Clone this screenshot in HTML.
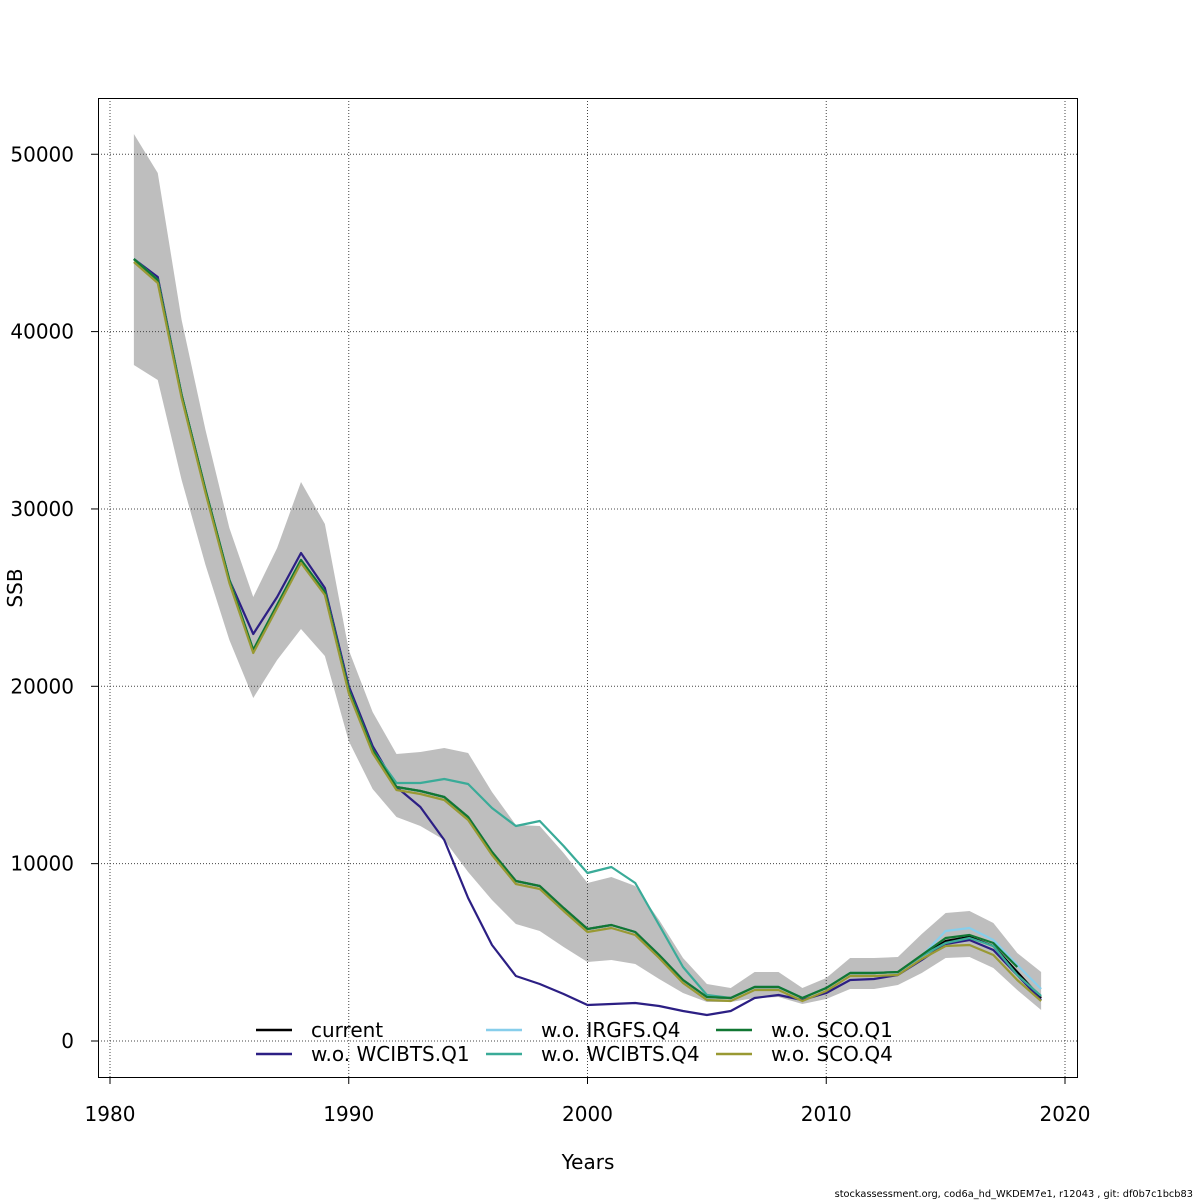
<!DOCTYPE html>
<html><head><meta charset="utf-8"><style>body{margin:0;background:#fff}svg{display:block}text{font-family:"DejaVu Sans","Liberation Sans",sans-serif}</style></head>
<body>
<svg id="s" width="1200" height="1200" xmlns="http://www.w3.org/2000/svg">
<rect width="1200" height="1200" fill="#fff"/>
<g id="band"></g>
<g id="grid" stroke="#444" stroke-width="1" stroke-dasharray="1,2"></g>
<g id="lines" fill="none" stroke-width="2.2" stroke-linejoin="round"></g>
<rect x="98.5" y="98.5" width="979" height="979" fill="none" stroke="#000"/>
<g id="ax" font-size="20" fill="#000"></g>
<text x="588" y="1169" font-size="20" text-anchor="middle">Years</text>
<text x="22" y="588" font-size="20" text-anchor="middle" transform="rotate(-90 22 588)">SSB</text>
<text x="1193" y="1197" font-size="9.8" text-anchor="end">stockassessment.org, cod6a_hd_WKDEM7e1, r12043 , git: df0b7c1bcb83</text>
<g id="leg" font-size="20"></g>
</svg>
<script>
const X=y=>110+(y-1980)*23.875;
const yrs=[];for(let y=1981;y<=2019;y++)yrs.push(y);
const cur=[259,280,395,490,580,650,605,560,592,690,750,787,791,797,817,852,881,886,908,929,925,932,955,980,997,998,987,987,998,988,973,973,972,956,941,937,946,972,998];
const up=[134,173,320,430,528,597,548,482,524,650,712,754,752,748,753,792,825,826,853,883,877,886,920,958,984,988,972,972,988,978,958,958,957,934,913,911,923,953,972];
const lo=[365,380,480,565,640,698,660,629,656,741,789,817,826,840,872,900,924,931,947,962,960,964,979,993,1002,1002,998,997,1004,999,989,989,985,973,958,957,968,990,1010];
const ns='http://www.w3.org/2000/svg';
function el(p,t,a,txt){const e=document.createElementNS(ns,t);for(const k in a)e.setAttribute(k,a[k]);if(txt!==undefined)e.textContent=txt;document.getElementById(p).appendChild(e);return e;}
let pts=yrs.map((y,i)=>X(y)+','+up[i]).concat(yrs.map((y,i)=>X(y)+','+lo[i]).reverse());
el('band','polygon',{points:pts.join(' '),fill:'#bebebe'});
for(let y=1980;y<=2020;y+=10){const x=X(y);el('grid','line',{x1:x,x2:x,y1:98,y2:1077});
 el('ax','line',{x1:x,x2:x,y1:1077,y2:1084,stroke:'#000'});el('ax','text',{x:x,y:1121,'text-anchor':'middle'},y);}
for(let v=0;v<=50000;v+=10000){const yy=1041-v*0.017735;el('grid','line',{x1:98,x2:1077,y1:yy,y2:yy});
 el('ax','line',{x1:91,x2:98,y1:yy,y2:yy,stroke:'#000'});el('ax','text',{x:74,y:yy+7,'text-anchor':'end'},v);}
function line(arr,col,n){const P=arr.slice(0,n||arr.length).map((v,i)=>X(yrs[i])+','+v).join(' ');el('lines','polyline',{points:P,stroke:col});}
let irg=cur.slice();irg[34]=931;irg[35]=928;irg[36]=940;irg[37]=965;irg[38]=989;
let wq4=cur.slice();[783,783,779,784,808,826,821,846,873,867,883,925,967,995].forEach((v,i)=>wq4[11+i]=v);wq4[34]=943;wq4[35]=938;wq4[36]=946;wq4[37]=975;wq4[38]=996;
let wq1=cur.slice();wq1[1]=277;wq1[5]=634;wq1[6]=597;wq1[7]=553;wq1[8]=588;wq1[9]=686;wq1[10]=746;
[787,807,840,898,945,976,984,994,1005,1004,1003,1006,1011,1015,1011,998,995,1000,993,980,979,975,960,944,940,950,975,1000].forEach((v,i)=>wq1[11+i]=v);
let sq1=cur.slice();sq1[33]=955;sq1[34]=938;sq1[35]=935;sq1[36]=943;sq1[37]=967;
let sq4=cur.slice();for(let i=0;i<39;i++)sq4[i]=cur[i]+3;sq4[34]=946;sq4[35]=945;sq4[36]=955;sq4[37]=980;sq4[38]=1001;
line(cur,'#000');line(wq1,'#2c1f84');line(irg,'#87ceeb');line(wq4,'#3aab98');line(sq1,'#117733',38);line(sq4,'#999933');
const L=[[256,1030,'#000','current'],[256,1054,'#2c1f84','w.o. WCIBTS.Q1'],[486,1030,'#87ceeb','w.o. IRGFS.Q4'],[486,1054,'#3aab98','w.o. WCIBTS.Q4'],[716,1030,'#117733','w.o. SCO.Q1'],[716,1054,'#999933','w.o. SCO.Q4']];
L.forEach(([x,y,c,t])=>{el('leg','line',{x1:x,x2:x+36,y1:y,y2:y,stroke:c,'stroke-width':2.5});el('leg','text',{x:x+55,y:y+7},t);});
</script>
</body></html>
